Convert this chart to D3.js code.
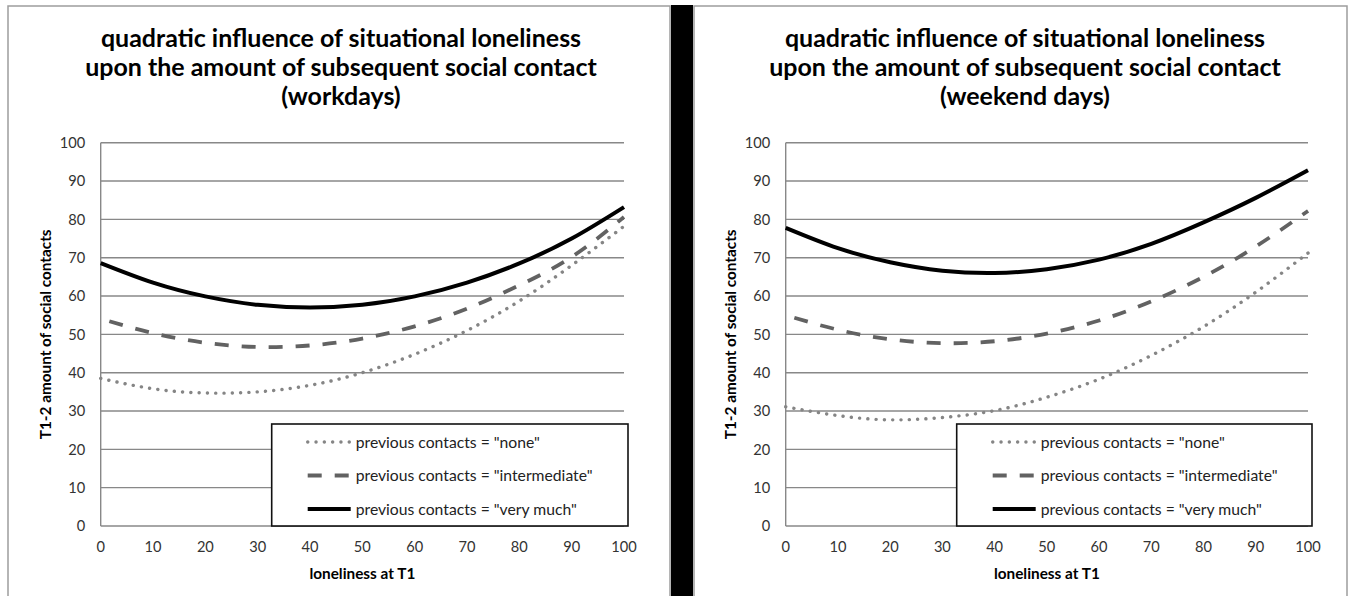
<!DOCTYPE html>
<html>
<head>
<meta charset="utf-8">
<script src="https://cdn.jsdelivr.net/npm/d3@7"></script>
<style>
  html, body { margin: 0; padding: 0; background: #fff; }
  svg { display: block; }
  text { font-family: Lato, "Open Sans", sans-serif; }
</style>
</head>
<body>
<svg id="chart" width="1354" height="596"></svg>
<script>
// values, every 10 points of loneliness
const loneliness = [0, 10, 20, 30, 40, 50, 60, 70, 80, 90, 100];

const workNone = [38.5, 35.8, 34.7, 35.0, 36.7, 40.0, 44.8, 51.0, 58.7, 68.0, 78.2];
const workIntermediate = [54.1, 50.3, 47.8, 46.7, 47.1, 48.9, 52.1, 56.7, 62.8, 70.2, 80.6];
const workVeryMuch = [68.6, 63.5, 59.9, 57.7, 57.0, 57.7, 59.9, 63.5, 68.5, 75.0, 83.2];

const weekendNone = [31.1, 28.8, 27.7, 28.3, 30.1, 33.6, 38.3, 44.5, 52.0, 61.0, 71.2];
const weekendIntermediate = [55.0, 51.2, 48.7, 47.7, 48.2, 50.2, 53.6, 58.6, 65.0, 72.9, 82.2];
const weekendVeryMuch = [77.8, 72.5, 68.8, 66.6, 66.0, 67.0, 69.5, 73.6, 79.2, 85.6, 92.8];

const xTickValues = [0, 10, 20, 30, 40, 50, 60, 70, 80, 90, 100];
const yTickValues = [0, 10, 20, 30, 40, 50, 60, 70, 80, 90, 100];

const titleLines = [
  "quadratic influence of situational loneliness",
  "upon the amount of subsequent social contact"
];
const panelNames = ["(workdays)", "(weekend days)"];
const legendLabels = [
  'previous contacts = "none"',
  'previous contacts = "intermediate"',
  'previous contacts = "very much"'
];
const xTitle = "loneliness at T1";
const yTitle = "T1-2 amount of social contacts";

const seriesStyles = [
  { stroke: "#858585", width: 3.4, dash: "0.1,8.2", cap: "round", offset: 0 },
  { stroke: "#626262", width: 3.8, dash: "14,13", cap: "butt", offset: 18 },
  { stroke: "#000", width: 4, dash: null, cap: "butt", offset: 0 }
];

const svg = d3.select("#chart");

// pick font sizes so the text widths match the picture
function sizeFor(text, weight, target) {
  const probe = svg.append("text")
    .attr("font-size", 20)
    .attr("font-weight", weight)
    .text(text);
  const w = probe.node().getComputedTextLength();
  probe.remove();
  return 20 * target / w;
}
const titleSize = sizeFor(titleLines[1], "bold", 512);
const tickSize = sizeFor("100", "normal", 25.5);
const xTitleSize = sizeFor(xTitle, "bold", 106);
const yTitleSize = sizeFor(yTitle, "bold", 210);
const legendSize = sizeFor(legendLabels[1], "normal", 237);

const panels = [
  { frame: [8, 670], plot: [100.7, 624], titleX: 341, name: panelNames[0],
    series: [workNone, workIntermediate, workVeryMuch] },
  { frame: [694, 1347], plot: [785.7, 1308], titleX: 1025, name: panelNames[1],
    series: [weekendNone, weekendIntermediate, weekendVeryMuch] }
];

// black divider between the two charts
svg.append("rect")
  .attr("x", 671).attr("y", 5)
  .attr("width", 22).attr("height", 600)
  .attr("fill", "#000");

function drawPanel(p) {
  const g = svg.append("g");

  g.append("rect")
    .attr("x", p.frame[0]).attr("y", 6)
    .attr("width", p.frame[1] - p.frame[0]).attr("height", 620)
    .attr("fill", "none")
    .attr("stroke", "#9d9d9d")
    .attr("stroke-width", 1.5);

  const x = d3.scaleLinear().domain([0, 100]).range(p.plot);
  const y = d3.scaleLinear().domain([0, 100]).range([526, 142.7]);

  // title
  const title = g.append("text")
    .attr("text-anchor", "middle")
    .attr("font-weight", "bold")
    .attr("font-size", titleSize)
    .attr("fill", "#000");
  [titleLines[0], titleLines[1], p.name].forEach((line, i) => {
    title.append("tspan")
      .attr("x", p.titleX)
      .attr("y", 47.3 + i * 28.9)
      .text(line);
  });

  // gridlines
  g.selectAll(".grid")
    .data(yTickValues)
    .join("line")
    .attr("x1", x(0)).attr("x2", x(100))
    .attr("y1", (d) => y(d)).attr("y2", (d) => y(d))
    .attr("stroke", "#888")
    .attr("stroke-width", 1.4);

  g.append("line")
    .attr("x1", x(0)).attr("x2", x(0))
    .attr("y1", y(0)).attr("y2", y(100))
    .attr("stroke", "#888")
    .attr("stroke-width", 1.4);

  // tick labels
  g.selectAll(".ytick")
    .data(yTickValues)
    .join("text")
    .attr("x", x(0) - 15.5)
    .attr("y", (d) => y(d))
    .attr("dy", "0.36em")
    .attr("text-anchor", "end")
    .attr("font-size", tickSize)
    .attr("fill", "#333")
    .text((d) => d);

  g.selectAll(".xtick")
    .data(xTickValues)
    .join("text")
    .attr("x", (d) => x(d))
    .attr("y", 547)
    .attr("dy", "0.36em")
    .attr("text-anchor", "middle")
    .attr("font-size", tickSize)
    .attr("fill", "#333")
    .text((d) => d);

  // axis titles
  g.append("text")
    .attr("x", (x(0) + x(100)) / 2)
    .attr("y", 573)
    .attr("dy", "0.36em")
    .attr("text-anchor", "middle")
    .attr("font-weight", "bold")
    .attr("font-size", xTitleSize)
    .text(xTitle);

  g.append("text")
    .attr("transform", `translate(${x(0) - 55.5},${(y(0) + y(100)) / 2}) rotate(-90)`)
    .attr("dy", "0.36em")
    .attr("text-anchor", "middle")
    .attr("font-weight", "bold")
    .attr("font-size", yTitleSize)
    .text(yTitle);

  // curves
  const line = d3.line()
    .x((d, i) => x(loneliness[i]))
    .y((d) => y(d))
    .curve(d3.curveNatural);

  p.series.forEach((values, k) => {
    const s = seriesStyles[k];
    g.append("path")
      .datum(values)
      .attr("d", line)
      .attr("fill", "none")
      .attr("stroke", s.stroke)
      .attr("stroke-width", s.width)
      .attr("stroke-linecap", s.cap)
      .attr("stroke-dasharray", s.dash)
      .attr("stroke-dashoffset", s.offset);
  });

  // legend
  const bx = x(0) + 171;
  const bx2 = x(100) + 4;
  const legend = g.append("g");
  legend.append("rect")
    .attr("x", bx).attr("y", 424)
    .attr("width", bx2 - bx).attr("height", y(0) - 424)
    .attr("fill", "#fff")
    .attr("stroke", "#111")
    .attr("stroke-width", 1.6);

  legendLabels.forEach((label, k) => {
    const s = seriesStyles[k];
    const ly = 442 + k * 33.5;
    legend.append("line")
      .attr("x1", bx + 36).attr("x2", bx + 79)
      .attr("y1", ly).attr("y2", ly)
      .attr("stroke", s.stroke)
      .attr("stroke-width", s.width)
      .attr("stroke-linecap", s.cap)
      .attr("stroke-dasharray", s.dash);
    legend.append("text")
      .attr("x", bx + 84)
      .attr("y", ly)
      .attr("dy", "0.36em")
      .attr("font-size", legendSize)
      .attr("fill", "#222")
      .text(label);
  });
}

panels.forEach(drawPanel);
</script>
</body>
</html>
